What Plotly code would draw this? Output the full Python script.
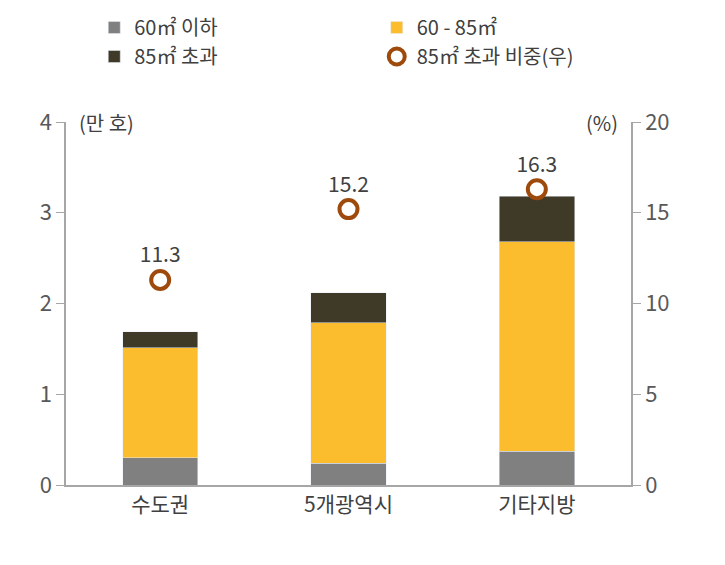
import plotly.graph_objects as go

regions = ["수도권", "5개광역시", "기타지방"]
small = [0.30, 0.24, 0.37]
mid = [1.21, 1.55, 2.31]
large = [0.18, 0.33, 0.50]
share = [11.3, 15.2, 16.3]

font = "Noto Sans CJK KR"
fig = go.Figure()
fig.add_trace(go.Bar(x=regions, y=small, name="60㎡ 이하", marker_color="#808080", width=0.4))
fig.add_trace(go.Bar(x=regions, y=mid, name="60 - 85㎡", marker_color="#FBBC2E", width=0.4))
fig.add_trace(go.Bar(x=regions, y=large, name="85㎡ 초과", marker_color="#3F3A28", width=0.4))
fig.add_trace(go.Scatter(x=regions, y=share, name="85㎡ 초과 비중(우)", yaxis="y2",
                         mode="markers+text", text=[f"{v:.1f}" for v in share],
                         textposition="top center", textfont=dict(size=21, color="#404040"),
                         marker=dict(size=18, color="white", line=dict(color="#9E4A0C", width=4))))

fig.update_layout(
    barmode="stack", width=725, height=565, plot_bgcolor="white", paper_bgcolor="white",
    font=dict(family=font, size=21, color="#404040"),
    margin=dict(l=58, r=102, t=114, b=88),
    showlegend=True,
    legend=dict(orientation="h", x=0.05, y=1.0, yref="container", xanchor="left", yanchor="top",
                entrywidth=0.5, entrywidthmode="fraction", font=dict(size=20), traceorder="normal"),
    xaxis=dict(showline=True, linecolor="#A6A6A6", linewidth=1.5, ticks="",
               tickfont=dict(size=21, color="#404040")),
    yaxis=dict(range=[0, 4], dtick=1, showgrid=False, showline=True, linecolor="#A6A6A6",
               linewidth=1.5, ticks="outside", ticklen=8, tickcolor="#A6A6A6", zeroline=False,
               tickfont=dict(size=22, color="#595959")),
    yaxis2=dict(range=[0, 20], dtick=5, overlaying="y", side="right", showgrid=False, showline=True,
                linecolor="#A6A6A6", linewidth=1.5, ticks="outside", ticklen=8, tickcolor="#A6A6A6",
                zeroline=False, tickfont=dict(size=22, color="#595959")),
    annotations=[
        dict(text="(만 호)", xref="paper", yref="paper", x=0.02, y=1.0, showarrow=False,
             xanchor="left", yanchor="middle", font=dict(size=20)),
        dict(text="(%)", xref="paper", yref="paper", x=0.98, y=1.0, showarrow=False,
             xanchor="right", yanchor="middle", font=dict(size=20)),
    ],
)
fig.write_html("out.html")
